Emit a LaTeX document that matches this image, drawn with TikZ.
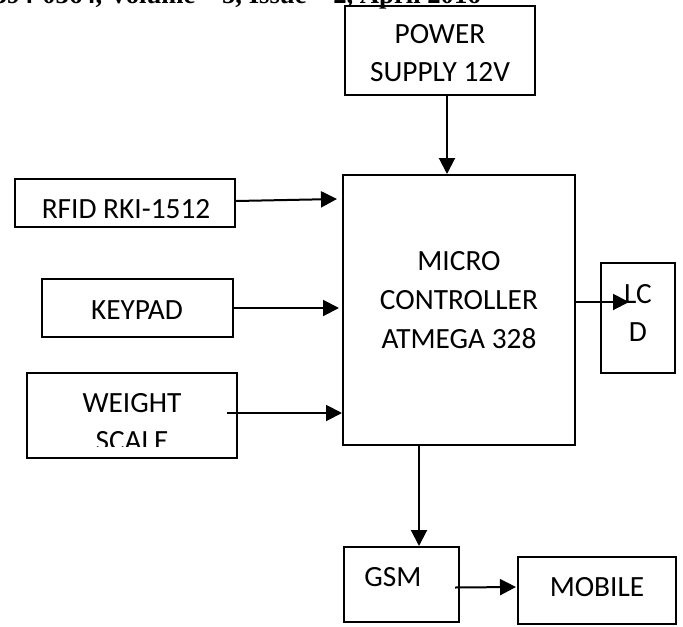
\documentclass[tikz,border=0pt]{standalone}
\usepackage{fontspec}
\setmainfont{Carlito}
\newfontfamily\hdrfont{Liberation Serif}
\usetikzlibrary{arrows.meta,fit}

\begin{document}
\begin{tikzpicture}[x=0.75pt,y=-0.75pt,
  every node/.style={font=\fontsize{22pt}{29pt}\selectfont},
  box/.style={draw,line width=1.5pt,inner sep=0pt},
  lbl/.style={align=center,inner sep=0pt},
  arr/.style={line width=1.5pt,-{Triangle[length=12pt,width=12pt]}}]
\useasboundingbox (0,0) rectangle (683,626);
% header line, cut off at the top
\begin{scope}
\clip (0,0) rectangle (683,12);
\node[anchor=base east,inner sep=0pt,font=\hdrfont\bfseries\fontsize{20pt}{24pt}\selectfont] (hdr) at (481,3) {ISSN: 2394-0364, Volume – 5, Issue – 2, April 2016};
\end{scope}
% blocks
\node[box,fit={(345,6)(535,95)}] (power) {};
\node[box,fit={(343,175)(575,445)}] (micro) {};
\node[box,fit={(15,179)(235,227)}] (rfid) {};
\node[box,fit={(42,279)(233,337)}] (keypad) {};
\node[box,fit={(27,373)(237,458)}] (weight) {};
\node[box,fit={(601,263)(675,373)}] (lcd) {};
\node[box,fit={(344,547)(459,622)}] (gsm) {};
\node[box,fit={(518,557)(676,624)}] (mobile) {};
% texts
\node[lbl] (powerlbl) at (440,53) {POWER\\SUPPLY 12V};
\node[lbl] (microlbl) at (459,300) {MICRO\\CONTROLLER\\ATMEGA 328};
\node[lbl] (rfidlbl) at (126,209) {RFID RKI-1512};
\node[lbl] (keypadlbl) at (137,310) {KEYPAD};
\begin{scope}
\clip (27,373) rectangle (237,446);
\node[lbl] (weightlbl) at (132,422) {WEIGHT\\SCALE};
\end{scope}
\node[lbl] (lcdlbl) at (638,313) {LC\\D};
\node[lbl] (gsmlbl) at (393,577) {GSM};
\node[lbl] (mobilelbl) at (597,587) {MOBILE};
% arrows
\draw[arr] ([shift={(7,0)}]power.south) -- ([shift={(7,0)}]power.south |- micro.north);
\draw[arr] ([shift={(0,-2)}]rfid.east) -- ([shift={(-5,-4)}]micro.west |- rfid.east);
\draw[arr] (keypad.east) -- ([shift={(-3,0)}]micro.west |- keypad.east);
\draw[arr] ([shift={(-11,-2.5)}]weight.east) -- ([shift={(0,-2.5)}]micro.west |- weight.east);
\draw[arr] ([shift={(0,-8)}]micro.east) -- ([shift={(29,-16)}]lcd.west);
\draw[arr] ([shift={(-40,0)}]micro.south) -- ([shift={(-40,0)}]micro.south |- gsm.north);
\draw[arr] ([shift={(-5,3)}]gsm.east) -- ([shift={(-1,-3.5)}]mobile.west);
\end{tikzpicture}
\end{document}
